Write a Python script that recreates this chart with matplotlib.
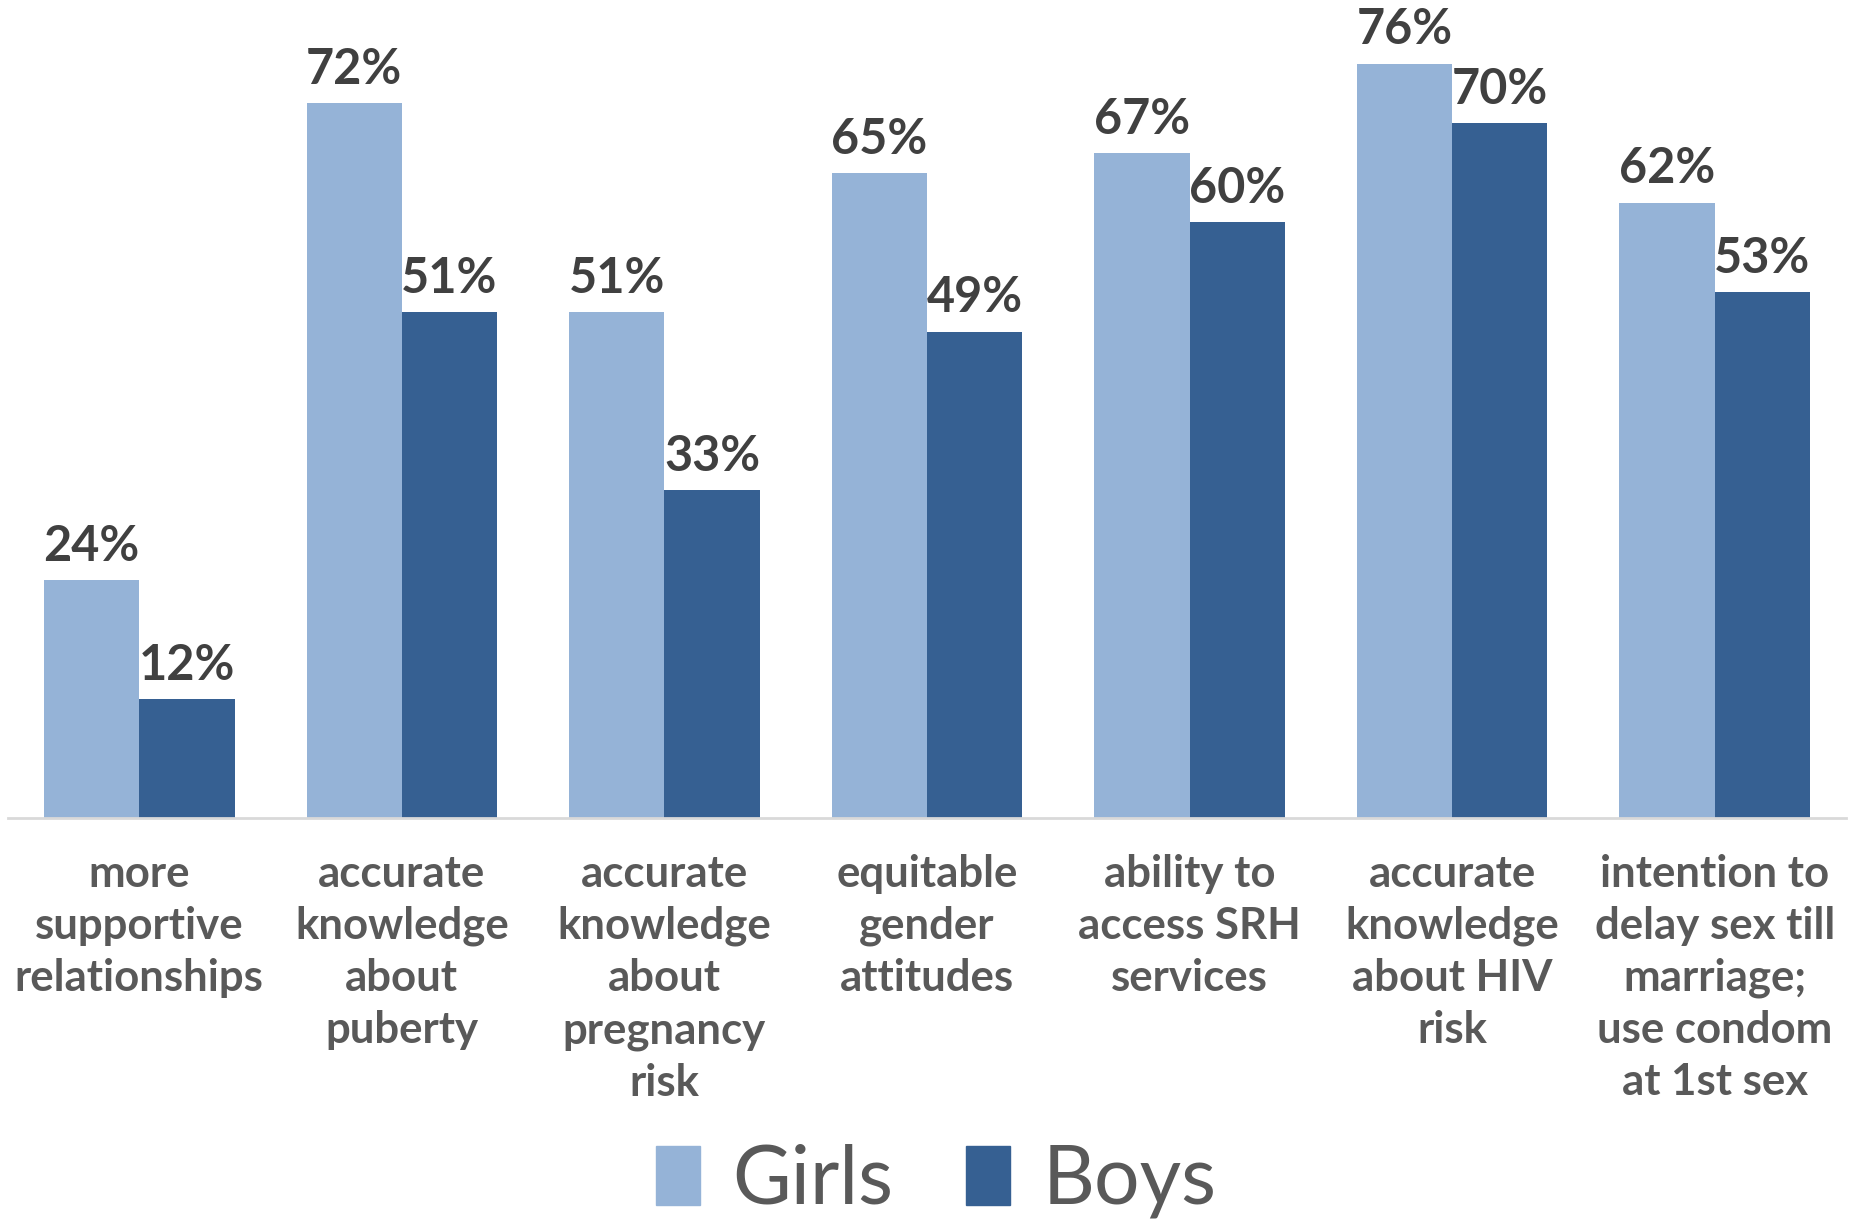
import numpy as np
import matplotlib.pyplot as plt
from matplotlib.patches import Patch

# 数据
categories = ['more\nsupportive\nrelationships',
              'accurate\nknowledge\nabout\npuberty',
              'accurate\nknowledge\nabout\npregnancy\nrisk',
              'equitable\ngender\nattitudes',
              'ability to\naccess SRH\nservices',
              'accurate\nknowledge\nabout HIV\nrisk',
              'intention to\ndelay sex till\nmarriage;\nuse condom\nat 1st sex']
girls = [24, 72, 51, 65, 67, 76, 62]
boys = [12, 51, 33, 49, 60, 70, 53]

c_girls = '#95B3D7'
c_boys = '#366092'

plt.rcParams['font.family'] = ['Lato', 'DejaVu Sans']

fig = plt.figure(figsize=(18.58, 12.28), dpi=100)
ax = fig.add_axes([8 / 1858, 1 - 818 / 1228, 1838 / 1858, 818 / 1228])

x = np.arange(len(categories))
w = 0.363
b1 = ax.bar(x - w / 2, girls, w, color=c_girls)
b2 = ax.bar(x + w / 2, boys, w, color=c_boys)

for bars, vals in [(b1, girls), (b2, boys)]:
    for r, v in zip(bars, vals):
        ax.annotate(f'{v}%', (r.get_x() + r.get_width() / 2, v),
                    xytext=(0, 8), textcoords='offset points',
                    ha='center', va='bottom', fontsize=35,
                    fontweight='bold', color='#404040')

ax.set_xlim(-0.5, len(categories) - 0.5)
ax.set_ylim(0, 82.4)
ax.set_yticks([])
ax.set_xticks(x)
ax.set_xticklabels(categories, fontsize=31.5, fontweight='bold',
                   color='#595959', linespacing=1.36)
ax.tick_params(axis='x', length=0, pad=26)
for s in ['top', 'right', 'left']:
    ax.spines[s].set_visible(False)
ax.spines['bottom'].set_color('#D9D9D9')
ax.spines['bottom'].set_linewidth(2)

handles = [Patch(color=c_girls, label='Girls'), Patch(color=c_boys, label='Boys')]
leg = fig.legend(handles=handles, loc='center', bbox_to_anchor=(936 / 1858, 1 - 1181 / 1228),
                 ncol=2, frameon=False, fontsize=58, handlelength=0.55, handleheight=0.75,
                 handletextpad=0.4, columnspacing=0.9)
for t in leg.get_texts():
    t.set_color('#595959')

fig.savefig('out.png', dpi=100)
